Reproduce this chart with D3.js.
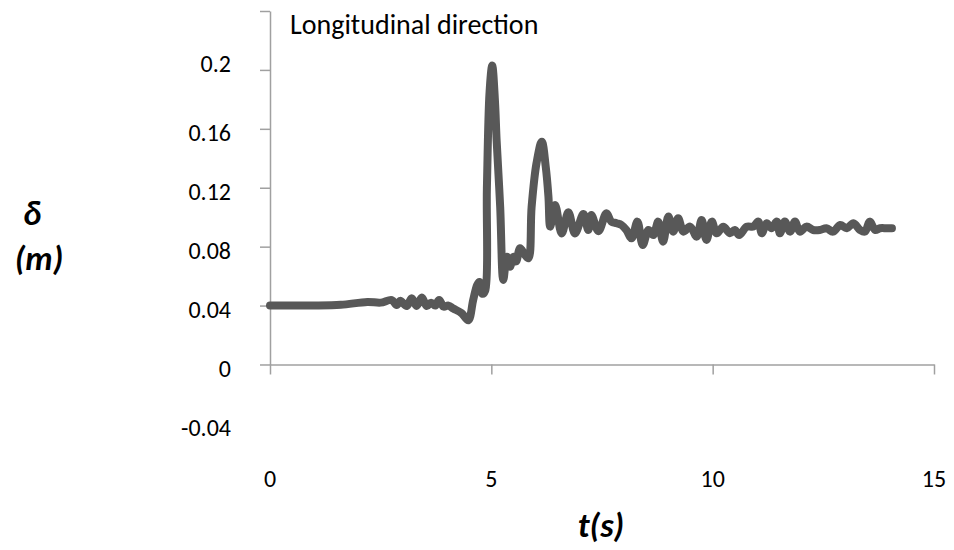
<!DOCTYPE html>
<html>
<head>
<meta charset="utf-8">
<script src="https://cdn.jsdelivr.net/npm/d3@7"></script>
<style>
  html, body { margin: 0; padding: 0; background: #ffffff; }
  svg { display: block; }
  text { font-family: Carlito, Calibri, Lato, "Open Sans", sans-serif; fill: #000; }
</style>
</head>
<body>
<svg id="chart" width="954" height="550"></svg>
<script>
// Time (s) of each sample of the displacement record
const times = [0, 0.5, 1.0, 1.6, 2.2, 2.5, 2.75, 2.86, 2.94, 3.09, 3.2, 3.31, 3.43, 3.54, 3.64, 3.73, 3.82, 3.92,
  4.03, 4.14, 4.33, 4.48, 4.59, 4.68, 4.73, 4.8, 4.86, 4.9, 4.96, 5.02, 5.08, 5.12, 5.2, 5.27,
  5.35, 5.42, 5.5, 5.56, 5.65, 5.76, 5.84, 5.91, 6.02, 6.14, 6.23, 6.29, 6.33, 6.44, 6.59, 6.74,
  6.89, 7.08, 7.19, 7.26, 7.42, 7.6, 7.71, 7.83, 7.94, 8.05, 8.17, 8.3, 8.42, 8.55, 8.66, 8.77,
  8.88, 9.0, 9.11, 9.22, 9.34, 9.49, 9.64, 9.75, 9.86, 9.98, 10.09, 10.24, 10.39, 10.5, 10.6,
  10.77, 10.92, 11.03, 11.11, 11.22, 11.33, 11.45, 11.52, 11.63, 11.75, 11.86, 11.97, 12.12,
  12.27, 12.42, 12.57, 12.72, 12.88, 13.03, 13.18, 13.33, 13.44, 13.55, 13.67, 13.78, 13.93, 14.05];

// Longitudinal displacement δ (m) at each time
const displacement = [0.040, 0.040, 0.040, 0.0405, 0.0425, 0.042, 0.0438, 0.0404, 0.0432, 0.0397, 0.045, 0.0397,
  0.0455, 0.0397, 0.042, 0.0400, 0.0438, 0.0393,
  0.040, 0.038, 0.0348, 0.030, 0.0438, 0.054, 0.056, 0.048, 0.050, 0.12, 0.185, 0.203, 0.18, 0.152, 0.107, 0.0574,
  0.0732, 0.0664, 0.0732, 0.070, 0.0789, 0.0744, 0.0721, 0.107, 0.1366, 0.1513, 0.134, 0.114, 0.0936, 0.1083, 0.089, 0.1033,
  0.089, 0.1021, 0.0913, 0.1015, 0.0905, 0.1027, 0.097, 0.0959, 0.0947, 0.0913, 0.0857, 0.097, 0.0811, 0.0913, 0.0879, 0.097,
  0.0834, 0.1004, 0.0902, 0.0993, 0.0902, 0.0936, 0.0868, 0.0981, 0.0846, 0.097, 0.0891, 0.0936, 0.0891, 0.0913, 0.0879,
  0.0936, 0.0936, 0.097, 0.0891, 0.0959, 0.0925, 0.097, 0.0891, 0.097, 0.0902, 0.097, 0.0902, 0.0936,
  0.0913, 0.0913, 0.0925, 0.0902, 0.0947, 0.0925, 0.0959, 0.0913, 0.0902, 0.097, 0.0913, 0.0925, 0.0925, 0.0925];

// Axis ticks and labels
const xTicks = [0, 5, 10, 15];
const yTicks = [0, 0.04, 0.08, 0.12, 0.16, 0.2, 0.24];
const yLabelValues = [-0.04, 0, 0.04, 0.08, 0.12, 0.16, 0.2];
const yLabelText = ["-0.04", "0", "0.04", "0.08", "0.12", "0.16", "0.2"];

const svg = d3.select("#chart");

const x = d3.scaleLinear().domain([0, 15]).range([270, 934]);
const y = d3.scaleLinear().domain([-0.04, 0.24]).range([423.4, 11]);

const axisColor = "#a0a0a0";

// Vertical axis: from 0 up to 0.24 with outward ticks
const yAxis = svg.append("g")
  .attr("transform", `translate(${x(0)},0)`)
  .call(d3.axisLeft(d3.scaleLinear().domain([0, 0.24]).range([y(0), y(0.24)]))
    .tickValues(yTicks).tickSize(10).tickSizeOuter(0).tickFormat(""));
yAxis.select(".domain").attr("stroke", axisColor).attr("stroke-width", 1.5);
yAxis.selectAll(".tick line").attr("stroke", axisColor).attr("stroke-width", 1.5);

// Horizontal axis along δ = 0 with downward ticks
const xAxis = svg.append("g")
  .attr("transform", `translate(0,${y(0)})`)
  .call(d3.axisBottom(x).tickValues(xTicks).tickSize(10).tickSizeOuter(0).tickFormat(""));
xAxis.select(".domain").attr("stroke", axisColor).attr("stroke-width", 1.5);
xAxis.selectAll(".tick line").attr("stroke", axisColor).attr("stroke-width", 1.5);

// Vertical tick labels (the topmost one sits a little higher, clear of the title area)
svg.append("g").selectAll("text")
  .data(yLabelValues)
  .join("text")
  .attr("x", 231)
  .attr("y", d => y(d) + (d === 0.2 ? -6 : 4))
  .attr("text-anchor", "end")
  .attr("dominant-baseline", "central")
  .attr("font-size", 24)
  .text((d, i) => yLabelText[i]);

// Horizontal tick labels, set below the plot
svg.append("g").selectAll("text")
  .data(xTicks)
  .join("text")
  .attr("x", d => x(d))
  .attr("y", 478)
  .attr("text-anchor", "middle")
  .attr("dominant-baseline", "central")
  .attr("font-size", 24)
  .text(d => d);

// Displacement curve
const points = times.map((t, i) => [t, displacement[i]]);
svg.append("path")
  .datum(points)
  .attr("fill", "none")
  .attr("stroke", "#585858")
  .attr("stroke-width", 8)
  .attr("stroke-linejoin", "round")
  .attr("stroke-linecap", "round")
  .attr("d", d3.line().x(d => x(d[0])).y(d => y(d[1])).curve(d3.curveCatmullRom.alpha(0.5)));

// Chart title
svg.append("text")
  .attr("x", 290)
  .attr("y", 34)
  .attr("font-size", 28)
  .text("Longitudinal direction");

// Axis titles
svg.append("text")
  .attr("x", 32)
  .attr("y", 225)
  .attr("text-anchor", "middle")
  .attr("font-size", 34)
  .attr("font-weight", "bold")
  .attr("font-style", "italic")
  .text("δ");
svg.append("text")
  .attr("x", 39)
  .attr("y", 270)
  .attr("text-anchor", "middle")
  .attr("font-size", 34)
  .attr("font-weight", "bold")
  .attr("font-style", "italic")
  .text("(m)");
svg.append("text")
  .attr("x", 601)
  .attr("y", 537)
  .attr("text-anchor", "middle")
  .attr("font-size", 34)
  .attr("font-weight", "bold")
  .attr("font-style", "italic")
  .text("t(s)");
</script>
</body>
</html>
